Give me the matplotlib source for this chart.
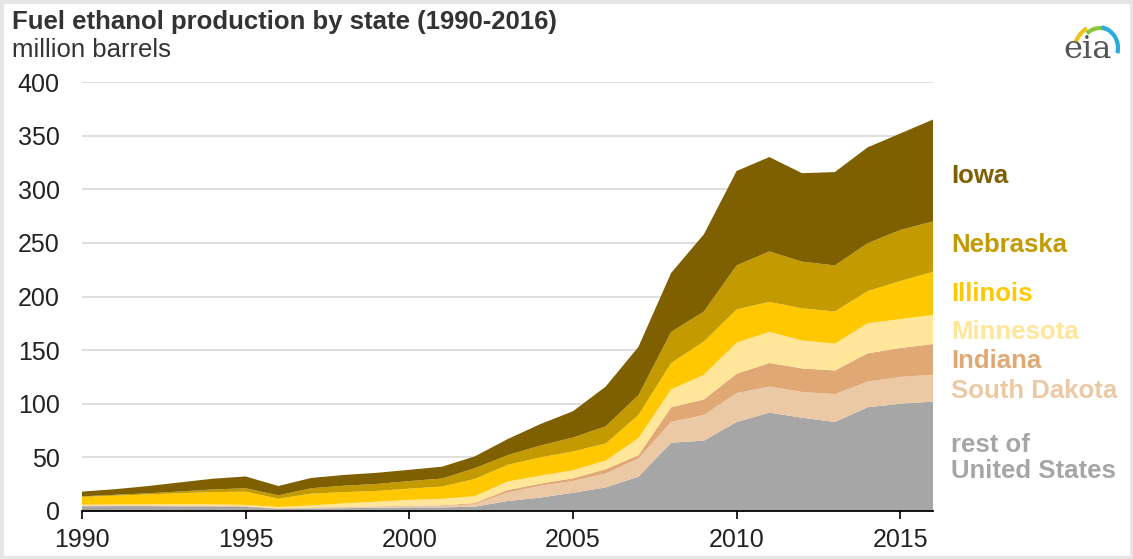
import numpy as np
import matplotlib
matplotlib.use("Agg")
from matplotlib import pyplot as plt
from matplotlib.patches import Rectangle, Arc

plt.rcParams['font.family'] = ['Liberation Sans', 'DejaVu Sans']

years = list(range(1990, 2017))

# million barrels
rest_of_us = [4.4, 4.5, 4.5, 4.3, 4.1, 3.8, 2.0, 2.4, 2.6, 3.0, 3.4, 3.4, 4.0, 9.3,
              12.5, 17.0, 22.0, 32.0, 63.7, 65.6, 83.0, 91.7, 87.0, 83.0, 96.7, 100.0, 102.0]
south_dakota = [0.1, 0.1, 0.1, 0.1, 0.1, 0.1, 0.1, 0.3, 0.5, 0.7, 0.9, 1.3, 2.2, 8.0,
                11.0, 11.0, 13.0, 17.0, 19.3, 23.9, 27.0, 24.3, 24.0, 26.0, 23.9, 25.0, 25.0]
indiana = [0.6, 0.6, 0.6, 0.6, 0.6, 0.6, 0.4, 0.5, 0.5, 0.5, 0.6, 0.6, 1.2, 2.2,
           2.0, 2.5, 4.0, 3.0, 13.7, 14.5, 18.0, 22.0, 22.0, 22.0, 26.4, 27.0, 28.7]
minnesota = [0.8, 0.9, 1.0, 1.2, 1.3, 1.2, 1.2, 2.0, 3.5, 4.5, 5.5, 6.0, 6.5, 8.0,
             7.5, 7.5, 8.0, 16.0, 16.7, 23.0, 29.0, 29.0, 26.0, 25.0, 28.0, 27.0, 27.0]
illinois = [7.2, 8.2, 9.2, 10.4, 11.5, 12.3, 7.8, 11.0, 10.5, 10.0, 10.5, 11.5, 16.0, 15.5,
            17.0, 17.5, 16.0, 21.5, 24.6, 31.0, 31.0, 28.0, 30.0, 30.0, 30.0, 35.5, 40.3]
nebraska = [0.6, 0.8, 1.1, 1.6, 2.5, 3.2, 3.1, 5.0, 6.0, 6.5, 7.0, 7.5, 10.0, 9.0,
            11.0, 13.0, 16.0, 18.5, 29.0, 28.0, 41.0, 47.0, 43.5, 43.0, 44.6, 47.5, 47.0]
iowa = [4.4, 5.2, 6.7, 8.5, 10.0, 11.0, 8.7, 9.6, 10.0, 10.4, 10.5, 11.0, 11.0, 15.0,
        20.0, 24.5, 37.0, 45.0, 55.0, 72.0, 88.0, 88.0, 82.5, 87.0, 89.4, 90.0, 95.0]

series = [rest_of_us, south_dakota, indiana, minnesota, illinois, nebraska, iowa]
names = ["rest of\nUnited States", "South Dakota", "Indiana", "Minnesota",
         "Illinois", "Nebraska", "Iowa"]
colors = ["#a6a6a6", "#ecc9a5", "#e0a874", "#ffe699", "#ffc800", "#c39a00", "#7f6000"]
label_y = [458, 391, 361, 332, 294, 245, 176]  # pixel rows of the right-hand labels

W, H = 1133, 559
fig = plt.figure(figsize=(W / 100, H / 100), dpi=100)

ax = fig.add_axes([82 / W, 1 - 511 / H, 851 / W, 429 / H])
ax.stackplot(years, *series, colors=colors, linewidth=0)
ax.set_xlim(1990, 2016)
ax.set_ylim(0, 400)
ax.set_yticks(range(0, 401, 50))
ax.set_xticks(range(1990, 2016, 5))
ax.grid(axis="y", color="#d9d9d9", lw=1.2)
ax.set_axisbelow(True)
for s in ["top", "right", "left"]:
    ax.spines[s].set_visible(False)
ax.spines["bottom"].set_color("#000000")
ax.spines["bottom"].set_linewidth(1.3)
ax.tick_params(axis="y", length=0, pad=16, labelsize=18, labelcolor="#222222")
ax.tick_params(axis="x", length=6, width=1.2, color="#000000", pad=6,
               labelsize=18, labelcolor="#222222")

for name, c, y in zip(names, colors, label_y):
    fig.text(951 / W, 1 - y / H, name, color=c, fontsize=18.5, fontweight="bold",
             ha="left", va="center", linespacing=1.1)

fig.text(12 / W, 1 - 22 / H, "Fuel ethanol production by state (1990-2016)",
         fontsize=18.5, fontweight="bold", color="#333333", ha="left", va="center")
fig.text(12 / W, 1 - 50 / H, "million barrels", fontsize=18.5, color="#333333",
         ha="left", va="center")

# eia logo
lax = fig.add_axes([1058 / W, 1 - 62 / H, 62 / W, 46 / H])
lax.set_xlim(0, 62)
lax.set_ylim(0, 46)
lax.axis("off")
lax.text(30, 13, "eia", family="DejaVu Serif", fontsize=23, color="#555555",
         ha="center", va="center")
lax.add_patch(Arc((40, 6), 50, 62, theta1=112, theta2=150, color="#f2c21b", lw=3))
lax.add_patch(Arc((42, 4), 46, 60, theta1=75, theta2=118, color="#8cc63f", lw=3))
lax.add_patch(Arc((40, 14), 40, 42, theta1=-15, theta2=80, color="#29abe2", lw=3))

fig.patches.append(Rectangle((0, 0), 1, 1, transform=fig.transFigure, fill=False,
                             edgecolor="#e6e6e6", lw=5))

fig.savefig("out.png", dpi=100)
